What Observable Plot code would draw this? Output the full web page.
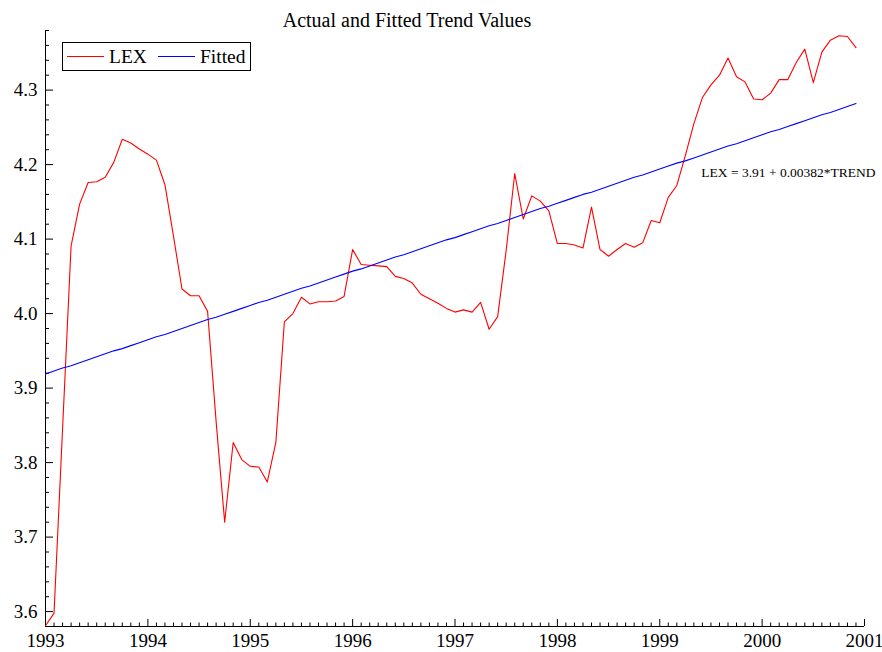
<!DOCTYPE html>
<html>
<head>
<meta charset="utf-8">
<script src="https://cdn.jsdelivr.net/npm/d3@7"></script>
<script src="https://cdn.jsdelivr.net/npm/@observablehq/plot@0.6"></script>
<style>
  html, body { margin: 0; padding: 0; background: #fff; }
  #wrap { position: relative; width: 882px; height: 652px; font-family: "Liberation Serif", "DejaVu Serif", serif; color: #000; }
  #title { position: absolute; top: 8px; left: 0; width: 814px; text-align: center; font-size: 20px; line-height: 24px; }
  #chart { position: absolute; top: 30px; left: 0; }
  #legend { position: absolute; left: 62px; top: 42px; width: 189px; height: 29px; box-sizing: border-box; border: 1px solid #000; background: #fff; font-size: 19.5px; }
  #legend .sw { position: absolute; top: 13px; width: 37px; height: 0; border-top: 1px solid; }
  #legend .lb { position: absolute; top: 0; line-height: 27px; }
</style>
</head>
<body>
<div id="wrap">
  <div id="title">Actual and Fitted Trend Values</div>
  <div id="chart"></div>
  <div id="legend"></div>
</div>
<script>
// ---- data ----
const startYear = 1993;
const seriesNames = ["LEX", "Fitted"];
const seriesColors = ["#ff0000", "#0000ff"];
const lex = [
  3.581, 3.598, 3.845, 4.091, 4.147, 4.176, 4.177, 4.183, 4.203, 4.234, 4.229, 4.221,
  4.214, 4.206, 4.173, 4.104, 4.033, 4.024, 4.024, 4.003, 3.855, 3.720, 3.827, 3.804,
  3.795, 3.794, 3.774, 3.827, 3.989, 4.000, 4.022, 4.013, 4.016, 4.016, 4.017, 4.023,
  4.086, 4.066, 4.065, 4.064, 4.063, 4.050, 4.047, 4.041, 4.026, 4.020, 4.014, 4.007,
  4.002, 4.005, 4.002, 4.015, 3.979, 3.996, 4.085, 4.188, 4.127, 4.158, 4.151, 4.138,
  4.094, 4.094, 4.092, 4.088, 4.143, 4.086, 4.077, 4.086, 4.094, 4.089, 4.095, 4.125,
  4.122, 4.156, 4.172, 4.212, 4.255, 4.290, 4.307, 4.320, 4.343, 4.318, 4.311, 4.288,
  4.287, 4.296, 4.314, 4.314, 4.337, 4.355, 4.310, 4.351, 4.367, 4.373, 4.372, 4.357
];
const fitted = [
  3.919, 3.923, 3.927, 3.930, 3.934, 3.938, 3.942, 3.946, 3.950, 3.953, 3.957, 3.961,
  3.965, 3.969, 3.972, 3.976, 3.980, 3.984, 3.988, 3.992, 3.995, 3.999, 4.003, 4.007,
  4.011, 4.015, 4.018, 4.022, 4.026, 4.030, 4.034, 4.037, 4.041, 4.045, 4.049, 4.053,
  4.057, 4.060, 4.064, 4.068, 4.072, 4.076, 4.079, 4.083, 4.087, 4.091, 4.095, 4.099,
  4.102, 4.106, 4.110, 4.114, 4.118, 4.121, 4.125, 4.129, 4.133, 4.137, 4.141, 4.144,
  4.148, 4.152, 4.156, 4.160, 4.163, 4.167, 4.171, 4.175, 4.179, 4.183, 4.186, 4.190,
  4.194, 4.198, 4.202, 4.205, 4.209, 4.213, 4.217, 4.221, 4.225, 4.228, 4.232, 4.236,
  4.240, 4.244, 4.247, 4.251, 4.255, 4.259, 4.263, 4.267, 4.270, 4.274, 4.278, 4.282
];
const yTickLabels = [3.6, 3.7, 3.8, 3.9, 4.0, 4.1, 4.2, 4.3];
const xTickLabels = [1993, 1994, 1995, 1996, 1997, 1998, 1999, 2000, 2001];
const equation = "LEX = 3.91 + 0.00382*TREND";

// ---- build table ----
const t = lex.map((_, i) => startYear + i / 12);
const rows = [];
lex.forEach((v, i) => rows.push({series: seriesNames[0], t: t[i], v}));
fitted.forEach((v, i) => rows.push({series: seriesNames[1], t: t[i], v}));

const W = 882, H = 622;
const mL = 45, mR = 18, mT = 0, mB = 26;
const frameW = W - mL - mR, frameH = H - mT - mB;

const yMinor = d3.range(179, 220).filter(k => k % 5 !== 0).map(k => k / 50);
const xMinor = d3.range(0, 97).filter(k => k % 12 !== 0).map(k => startYear + k / 12);

const chart = Plot.plot({
  width: W, height: H,
  marginLeft: mL, marginRight: mR, marginTop: mT, marginBottom: mB,
  style: {fontFamily: "Liberation Serif, serif", fontSize: "19px", background: "white", color: "black", overflow: "visible"},
  x: {domain: [1993, 2001]},
  y: {domain: [3.58, 4.38]},
  color: {domain: seriesNames, range: seriesColors},
  marks: [
    Plot.ruleX([1993], {stroke: "black", strokeWidth: 1}),
    Plot.ruleY([3.58], {stroke: "black", strokeWidth: 1}),
    Plot.tickY(yTickLabels, {y: d => d, insetRight: frameW - 8, stroke: "black"}),
    Plot.tickY(yMinor, {y: d => d, insetRight: frameW - 4, stroke: "black"}),
    Plot.tickX(xTickLabels, {x: d => d, insetTop: frameH - 7, stroke: "black"}),
    Plot.tickX(xMinor, {x: d => d, insetTop: frameH - 3.5, stroke: "black"}),
    Plot.axisY({ticks: yTickLabels, tickSize: 0, tickPadding: 8, tickFormat: d => d.toFixed(1), label: null, fontSize: 19}),
    Plot.axisX({ticks: xTickLabels, tickSize: 0, tickPadding: 7, tickFormat: d => String(d), label: null, fontSize: 19}),
    Plot.line(rows.filter(d => d.series === "LEX"), {x: "t", y: "v", stroke: "series", strokeWidth: 1.1}),
    Plot.line(rows.filter(d => d.series === "Fitted"), {x: "t", y: "v", stroke: "series", strokeWidth: 1.1}),
    Plot.text([equation], {text: d => d, frameAnchor: "top-right", textAnchor: "end", dx: 11, dy: 137, fontSize: 13.5, fill: "black"})
  ]
});
document.getElementById("chart").appendChild(chart);

// legend
const legend = document.getElementById("legend");
const legendPos = [{sw: 4, lb: 46}, {sw: 95, lb: 137}];
seriesNames.forEach((name, i) => {
  const sw = document.createElement("div");
  sw.className = "sw";
  sw.style.left = legendPos[i].sw + "px";
  sw.style.borderTopColor = seriesColors[i];
  legend.appendChild(sw);
  const lb = document.createElement("div");
  lb.className = "lb";
  lb.style.left = legendPos[i].lb + "px";
  lb.textContent = name;
  legend.appendChild(lb);
});
</script>
</body>
</html>
